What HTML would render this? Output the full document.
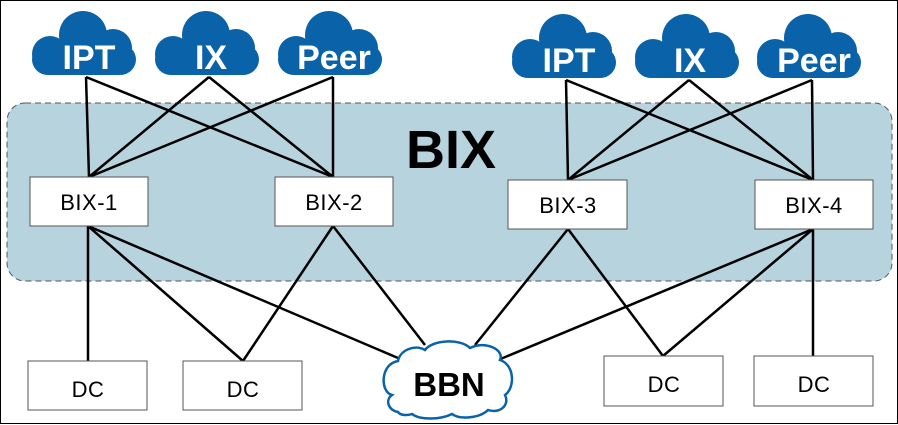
<!DOCTYPE html>
<html><head><meta charset="utf-8"><style>
html,body{margin:0;padding:0;background:#fff}
svg{display:block}
text{font-family:"Liberation Sans",sans-serif}
</style></head><body>
<svg width="898" height="425" viewBox="0 0 898 425" xmlns="http://www.w3.org/2000/svg">
<defs>
<g id="cl">
<circle cx="54" cy="27" r="24"/>
<circle cx="84" cy="40" r="19"/>
<circle cx="21" cy="46" r="18"/>
<rect x="3" y="36" width="104" height="31" rx="16"/>
</g>
</defs>
<rect x="0.5" y="0.5" width="897" height="423" fill="#fff" stroke="#000" stroke-width="1"/>
<rect x="7" y="103" width="885" height="178" rx="18" fill="#b7d3de" stroke="#555" stroke-width="1" stroke-dasharray="6,4"/>
<text x="451" y="168" font-size="54" font-weight="bold" text-anchor="middle" fill="#000">BIX</text>

<g fill="#0a62a9">
<use href="#cl" x="29" y="8"/>
<use href="#cl" x="152" y="8"/>
<use href="#cl" x="275" y="8"/>
<use href="#cl" x="509" y="11"/>
<use href="#cl" x="632" y="11"/>
<use href="#cl" x="754" y="11"/>
</g>
<g fill="#fff" font-size="34" font-weight="bold" text-anchor="middle">
<text x="89" y="69">IPT</text>
<text x="211" y="69">IX</text>
<text x="334" y="69">Peer</text>
<text x="569" y="72">IPT</text>
<text x="690" y="72">IX</text>
<text x="814" y="72">Peer</text>
</g>

<g stroke="#000" stroke-width="2.5" fill="none">
<path d="M86,77L89,177M86,77L333,177M209,77L89,177M209,77L333,177M333,77L89,177M333,77L333,177"/>
<path d="M566,80L568,180M566,80L813,180M689,80L568,180M689,80L813,180M812,80L568,180M812,80L813,180"/>
<path d="M88,226L88,361M88,226L243,361M88,226L398,358M333,226L243,361M333,226L425,345"/>
<path d="M568,229L475,345M568,229L663,356M813,229L663,356M813,229L813,356M813,229L498,360"/>
</g>

<g fill="#fff" stroke="#555" stroke-width="1">
<rect x="30" y="177" width="118" height="49"/>
<rect x="275" y="177" width="118" height="49"/>
<rect x="508" y="180" width="119" height="49"/>
<rect x="755" y="180" width="118" height="49"/>
<rect x="28" y="361" width="119" height="49"/>
<rect x="183" y="361" width="119" height="49"/>
<rect x="604" y="356" width="119" height="50"/>
<rect x="754" y="356" width="119" height="50"/>
</g>
<g font-size="22" text-anchor="middle" fill="#000" letter-spacing="0.5">
<text x="89" y="210">BIX-1</text>
<text x="334" y="210">BIX-2</text>
<text x="568" y="213">BIX-3</text>
<text x="814" y="213">BIX-4</text>
<text x="88" y="397">DC</text>
<text x="243" y="397">DC</text>
<text x="664" y="392">DC</text>
<text x="814" y="392">DC</text>
</g>

<path d="M398,412 C388,410 385,400 392,395 C380,392 380,364 398,361 C400,350 415,344 425,350 C432,340 460,338 470,348 C485,340 505,350 500,360 C515,365 515,388 505,395 C510,405 500,414 488,410 C480,418 460,420 452,414 C440,420 420,420 412,414 C406,416 400,415 398,412 Z" fill="#fff" stroke="#0a62a9" stroke-width="2.5"/>
<text x="449" y="396" font-size="33" font-weight="bold" text-anchor="middle" fill="#000">BBN</text>
</svg>
</body></html>
